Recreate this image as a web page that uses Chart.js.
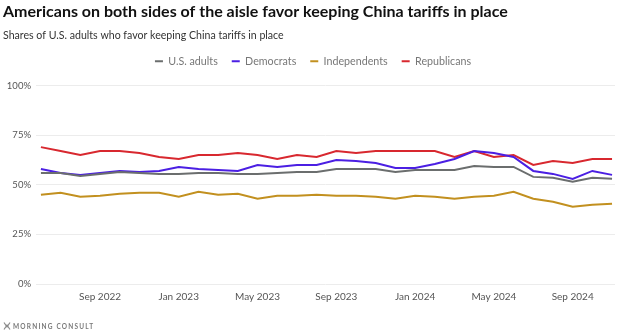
<!DOCTYPE html>
<html>
<head>
<meta charset="utf-8">
<script src="https://cdn.jsdelivr.net/npm/chart.js@4/dist/chart.umd.min.js"></script>
<style>
	html,body{margin:0;padding:0;background:#ffffff;}
	#wrap{position:relative;width:624px;height:336px;}
</style>
</head>
<body>
<div id="wrap"><canvas id="chart" width="624" height="336"></canvas></div>
<script>
// Monthly survey points, Jun 2022 .. Nov 2024
var months = ['Jun 2022','Jul 2022','Aug 2022','Sep 2022','Oct 2022','Nov 2022','Dec 2022','Jan 2023','Feb 2023','Mar 2023','Apr 2023','May 2023','Jun 2023','Jul 2023','Aug 2023','Sep 2023','Oct 2023','Nov 2023','Dec 2023','Jan 2024','Feb 2024','Mar 2024','Apr 2024','May 2024','Jun 2024','Jul 2024','Aug 2024','Sep 2024','Oct 2024','Nov 2024'];
var usAdults = [56,56,54.5,55.5,56.5,56,55.5,55.5,56,56,55.5,55.5,56,56.5,56.5,58,58,58,56.5,57.5,57.5,57.5,59.5,59,59,54,53.5,51.5,53.5,53];
var democrats = [58,56,55,56,57,56.5,57,59,58,57.5,57,60,59,60,60,62.5,62,61,58.5,58.5,60.5,63,67,66,64,57,55.5,53,57,55];
var independents = [45,46,44,44.5,45.5,46,46,44,46.5,45,45.5,43,44.5,44.5,45,44.5,44.5,44,43,44.5,44,43,44,44.5,46.5,43,41.5,39,40,40.5];
var republicans = [69,67,65,67,67,66,64,63,65,65,66,65,63,65,64,67,66,67,67,67,67,64,67,64,65,60,62,61,63,63];
var yTicks = [0,25,50,75,100];
var xTickMonths = ['Sep 2022','Jan 2023','May 2023','Sep 2023','Jan 2024','May 2024','Sep 2024'];

var colours = {
	'U.S. adults':'#6b6e6e',
	'Democrats':'#4b1fe3',
	'Independents':'#c2901f',
	'Republicans':'#d8282f'
};

function series(label,values){
	return {
		'label':label,
		'data':values.map(function(v,i){ return {'x':i,'y':v}; }),
		'borderColor':colours[label],
		'backgroundColor':colours[label],
		'borderWidth':2,
		'pointRadius':0,
		'tension':0
	};
}

// Extra room under the legend, and nudge it a little to the right
var legendGap = {
	id:'legendGap',
	beforeLayout:function(chart){
		var lg = chart.legend;
		if(!lg || lg._gapPatched) return;
		var fit = lg.fit, draw = lg.draw;
		lg.fit = function(){
			fit.apply(this,arguments);
			this.height += 9;
		};
		lg.draw = function(){
			this.ctx.save();
			this.ctx.translate(4,0);
			draw.apply(this,arguments);
			this.ctx.restore();
		};
		lg._gapPatched = true;
	}
};

// Small footer logo
var footer = {
	id:'footer',
	afterDraw:function(chart){
		var ctx = chart.ctx;
		ctx.save();
		ctx.strokeStyle = '#8a8a8a';
		ctx.lineWidth = 1.2;
		ctx.beginPath();
		ctx.moveTo(4,322.5); ctx.lineTo(7,327); ctx.lineTo(10,322.5);
		ctx.moveTo(4,329.5); ctx.lineTo(7,325); ctx.lineTo(10,329.5);
		ctx.stroke();
		ctx.fillStyle = '#7a7a7a';
		ctx.font = 'bold 6.5px Lato';
		ctx.textBaseline = 'middle';
		if('letterSpacing' in ctx) ctx.letterSpacing = '1.2px';
		ctx.fillText('MORNING CONSULT',13,326.5);
		ctx.restore();
	}
};

new Chart(document.getElementById('chart'),{
	type:'line',
	data:{
		datasets:[
			series('U.S. adults',usAdults),
			series('Democrats',democrats),
			series('Independents',independents),
			series('Republicans',republicans)
		]
	},
	options:{
		responsive:false,
		animation:false,
		layout:{padding:{left:3,right:9,top:0,bottom:26}},
		plugins:{
			title:{
				display:true,
				text:'Americans on both sides of the aisle favor keeping China tariffs in place',
				align:'start',
				color:'#111111',
				font:{family:'Lato',size:16,weight:'bold'},
				padding:{top:2,bottom:8}
			},
			subtitle:{
				display:true,
				text:'Shares of U.S. adults who favor keeping China tariffs in place',
				align:'start',
				color:'#333333',
				font:{family:'Lato',size:10.6},
				padding:{top:0,bottom:0}
			},
			legend:{
				display:true,
				position:'top',
				labels:{
					color:'#777777',
					font:{family:'Lato',size:10.7},
					boxWidth:8,
					boxHeight:2,
					padding:14,
					generateLabels:function(chart){
						var items = Chart.defaults.plugins.legend.labels.generateLabels(chart);
						items.forEach(function(it){ it.lineWidth = 0; });
						return items;
					}
				}
			},
			tooltip:{enabled:false}
		},
		scales:{
			x:{
				type:'linear',
				min:-0.25,
				max:29.15,
				grid:{display:false,drawTicks:false},
				border:{display:false},
				afterBuildTicks:function(scale){
					scale.ticks = xTickMonths.map(function(m){ return {'value':months.indexOf(m)}; });
				},
				ticks:{
					autoSkip:false,
					maxRotation:0,
					padding:7,
					color:'#555555',
					font:{family:'Lato',size:10},
					callback:function(v){ return months[v]; }
				}
			},
			y:{
				min:0,
				max:100,
				afterBuildTicks:function(scale){
					scale.ticks = yTicks.map(function(v){ return {'value':v}; });
				},
				afterFit:function(scale){ scale.width = 33; },
				grid:{color:'#ececec',lineWidth:1,drawTicks:false},
				border:{display:false},
				ticks:{
					padding:5,
					color:'#555555',
					font:{family:'Lato',size:9.5},
					callback:function(v){ return v+'%'; }
				}
			}
		}
	},
	plugins:[legendGap,footer]
});
</script>
</body>
</html>
